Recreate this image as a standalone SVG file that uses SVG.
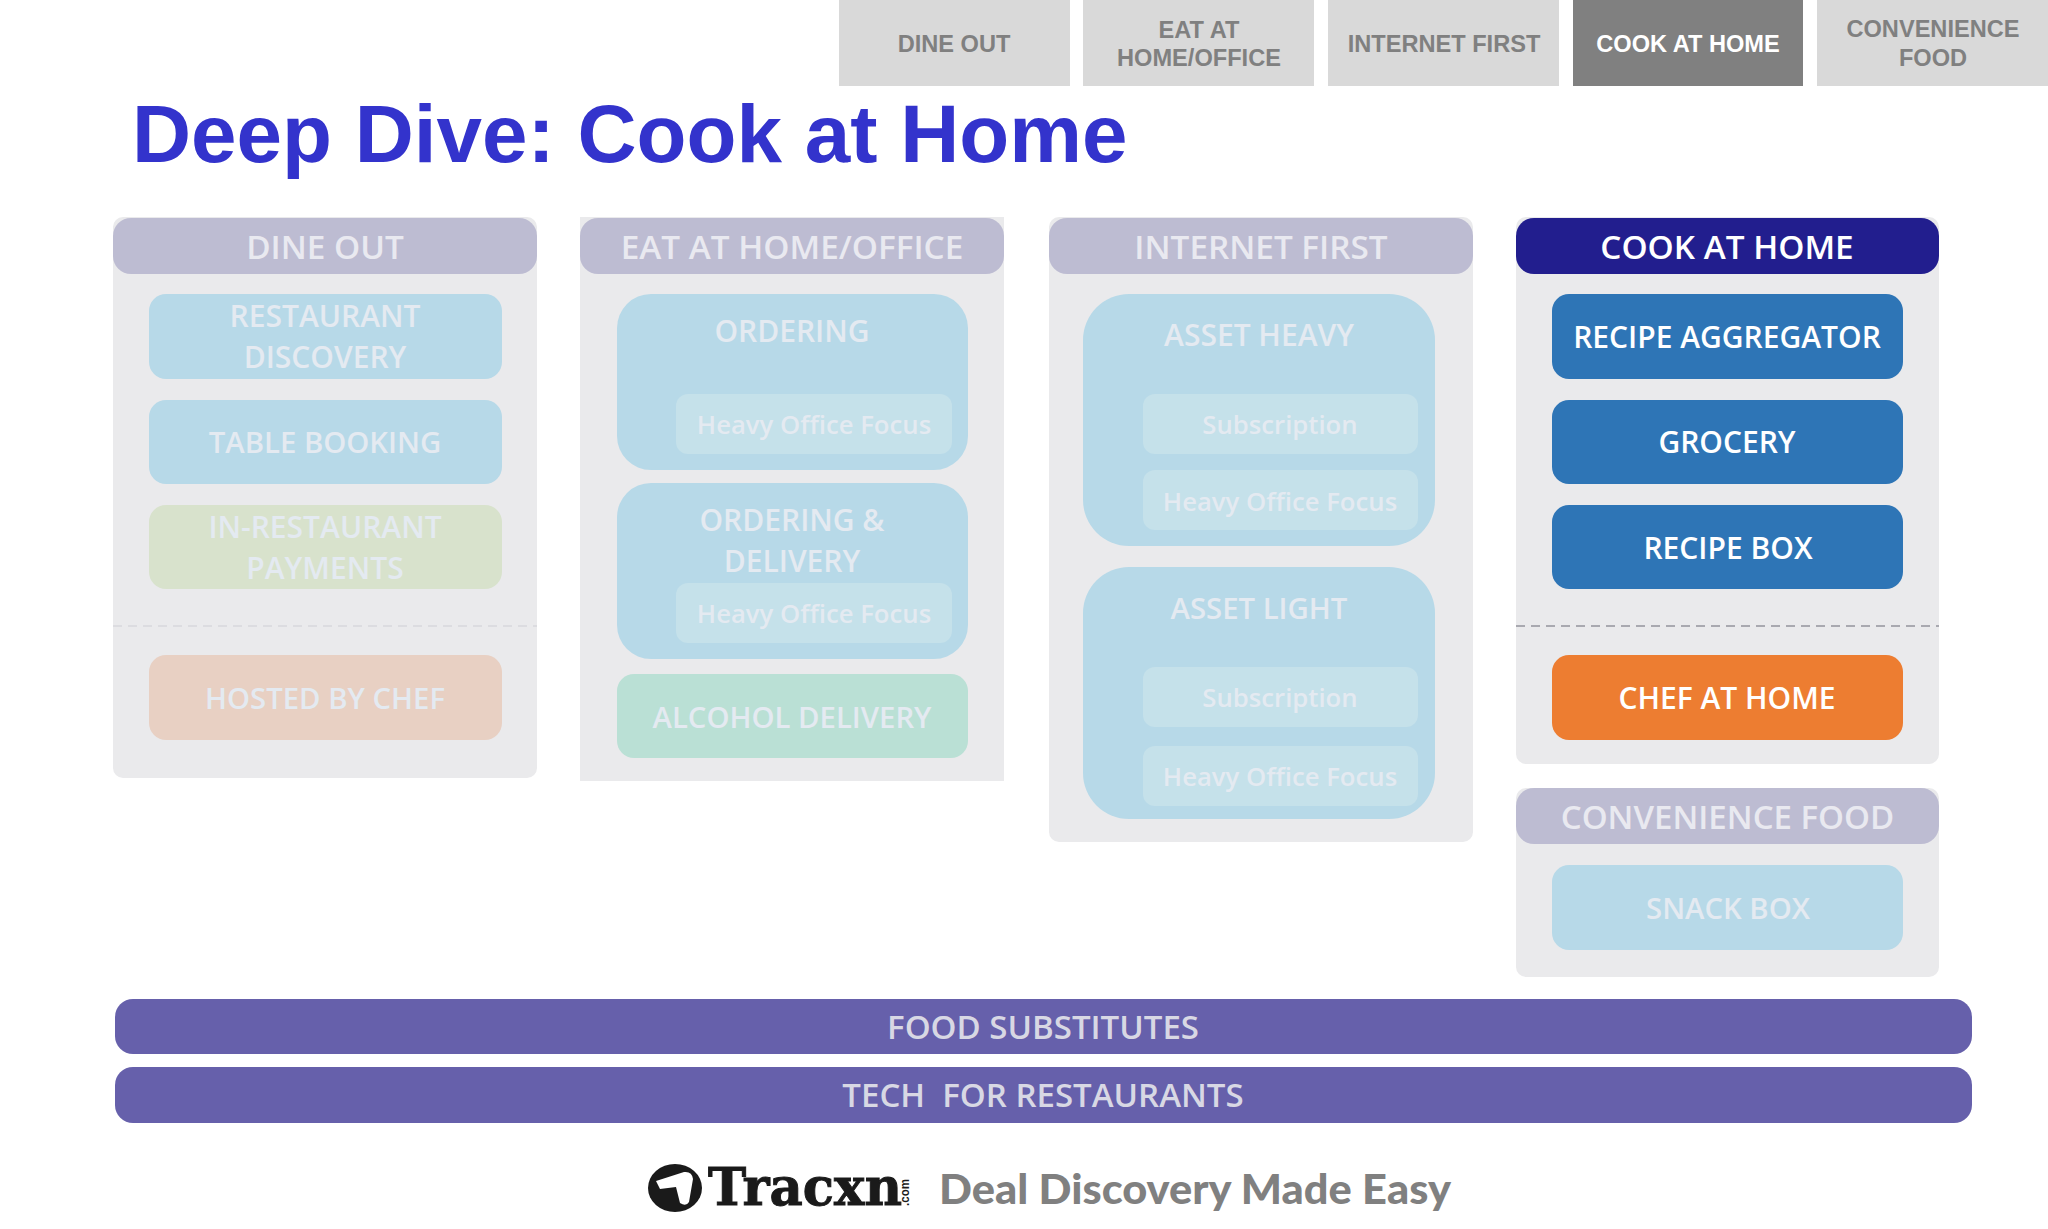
<svg xmlns="http://www.w3.org/2000/svg" width="2048" height="1229" viewBox="0 0 2048 1229">
<style>
text{text-anchor:middle;font-family:"Open Sans","Noto Sans",sans-serif;font-weight:600}
.tab{fill:#d9d9d9}.tabt{font-family:"Liberation Sans",Arial,sans-serif;font-weight:700;font-size:23.6px;fill:#808080}
.panel{fill:#eaeaec}.hd{fill:#bdbcd2}.hdt{font-size:33.3px;fill:#e9e9f0}
.it{fill:#b7d9e8}.itt{font-size:30px;fill:#e4eaf1}.nar{font-size:29.3px}.sub{fill:#c5e1ea}.subt{font-size:25.7px;fill:#e4eaf1}
.on{fill:#2e75b6}.ont{font-size:30px;fill:#fff}
.bar{fill:#6660ab}.bart{font-size:33px;fill:#d8d8e4}
.dash{stroke:#dcdce0;stroke-width:2;stroke-dasharray:9 6;fill:none}
</style>
<rect width="2048" height="1229" fill="#fff"/>
<g id="tabs">
<g id="tab-dine-out"><rect class="tab" x="839" y="0" width="231" height="86"/><text class="tabt" x="954" y="52">DINE OUT</text></g>
<g id="tab-eat"><rect class="tab" x="1083" y="0" width="231" height="86"/><text class="tabt" x="1199" y="38">EAT AT</text><text class="tabt" x="1199" y="66">HOME/OFFICE</text></g>
<g id="tab-internet"><rect class="tab" x="1328" y="0" width="231" height="86"/><text class="tabt" x="1444" y="52">INTERNET FIRST</text></g>
<g id="tab-cook"><rect x="1573" y="0" width="230" height="86" fill="#808080"/><text class="tabt" x="1688" y="52" style="fill:#fff">COOK AT HOME</text></g>
<g id="tab-convenience"><rect class="tab" x="1817" y="0" width="231" height="86"/><text class="tabt" x="1933" y="37">CONVENIENCE</text><text class="tabt" x="1933" y="66">FOOD</text></g>
</g>
<text id="title" x="132" y="162" style="text-anchor:start;font-family:'Liberation Sans',Arial,sans-serif;font-weight:700;font-size:81.8px;fill:#3333cc">Deep Dive: Cook at Home</text>
<g id="dine-out">
<rect class="panel" x="113" y="217" width="424" height="561" rx="10"/>
<rect class="hd" x="113" y="218" width="424" height="56" rx="18"/><text class="hdt" x="325" y="259">DINE OUT</text>
<g id="restaurant-discovery"><rect class="it" x="149" y="294" width="353" height="85" rx="17"/><text class="itt" x="325" y="327">RESTAURANT</text><text class="itt" x="325" y="368">DISCOVERY</text></g>
<g id="table-booking"><rect class="it" x="149" y="400" width="353" height="84" rx="17"/><text class="itt nar" x="325" y="453">TABLE BOOKING</text></g>
<g id="in-restaurant"><rect x="149" y="505" width="353" height="84" rx="17" fill="#d8e2cc"/><text class="itt" x="325" y="538">IN-RESTAURANT</text><text class="itt" x="325" y="579">PAYMENTS</text></g>
<line class="dash" x1="113" y1="626" x2="537" y2="626"/>
<g id="hosted-by-chef"><rect x="149" y="655" width="353" height="85" rx="17" fill="#e8d0c3"/><text class="itt nar" x="325" y="709">HOSTED BY CHEF</text></g>
</g>
<g id="eat-at-home">
<rect class="panel" x="580" y="217" width="424" height="564"/>
<rect class="hd" x="580" y="218" width="424" height="56" rx="18"/><text class="hdt" x="792" y="259">EAT AT HOME/OFFICE</text>
<g id="ordering"><rect class="it" x="617" y="294" width="351" height="176" rx="34"/><text class="itt" x="792" y="342">ORDERING</text>
<rect class="sub" x="676" y="394" width="276" height="60" rx="12"/><text class="subt" x="814" y="434">Heavy Office Focus</text></g>
<g id="ordering-delivery"><rect class="it" x="617" y="483" width="351" height="176" rx="34"/><text class="itt" x="792" y="531">ORDERING &amp;</text><text class="itt" x="792" y="572">DELIVERY</text>
<rect class="sub" x="676" y="583" width="276" height="60" rx="12"/><text class="subt" x="814" y="623">Heavy Office Focus</text></g>
<g id="alcohol-delivery"><rect x="617" y="674" width="351" height="84" rx="17" fill="#bae0d5"/><text class="itt nar" x="792" y="728">ALCOHOL DELIVERY</text></g>
</g>
<g id="internet-first">
<rect class="panel" x="1049" y="217" width="424" height="625" rx="10"/>
<rect class="hd" x="1049" y="218" width="424" height="56" rx="18"/><text class="hdt" x="1261" y="259">INTERNET FIRST</text>
<g id="asset-heavy"><rect class="it" x="1083" y="294" width="352" height="252" rx="46"/><text class="itt" x="1259" y="346">ASSET HEAVY</text>
<rect class="sub" x="1143" y="394" width="275" height="60" rx="12"/><text class="subt" x="1280" y="434">Subscription</text>
<rect class="sub" x="1143" y="470" width="275" height="60" rx="12"/><text class="subt" x="1280" y="511">Heavy Office Focus</text></g>
<g id="asset-light"><rect class="it" x="1083" y="567" width="352" height="252" rx="46"/><text class="itt nar" x="1259" y="619">ASSET LIGHT</text>
<rect class="sub" x="1143" y="667" width="275" height="60" rx="12"/><text class="subt" x="1280" y="707">Subscription</text>
<rect class="sub" x="1143" y="746" width="275" height="60" rx="12"/><text class="subt" x="1280" y="786">Heavy Office Focus</text></g>
</g>
<g id="cook-at-home">
<rect class="panel" x="1516" y="217" width="423" height="547" rx="10"/>
<rect x="1516" y="218" width="423" height="56" rx="18" fill="#221e8e"/><text class="hdt" x="1727" y="259" style="fill:#fff">COOK AT HOME</text>
<g id="recipe-aggregator"><rect class="on" x="1552" y="294" width="351" height="85" rx="17"/><text class="ont" x="1727" y="348">RECIPE AGGREGATOR</text></g>
<g id="grocery"><rect class="on" x="1552" y="400" width="351" height="84" rx="17"/><text class="ont nar" x="1727" y="453">GROCERY</text></g>
<g id="recipe-box"><rect class="on" x="1552" y="505" width="351" height="84" rx="17"/><text class="ont nar" x="1728" y="559">RECIPE BOX</text></g>
<line class="dash" x1="1516" y1="626" x2="1939" y2="626" style="stroke:#a9a9b0"/>
<g id="chef-at-home"><rect x="1552" y="655" width="351" height="85" rx="17" fill="#ed7d31"/><text class="ont" x="1727" y="709">CHEF AT HOME</text></g>
</g>
<g id="convenience-food">
<rect class="panel" x="1516" y="788" width="423" height="189" rx="10"/>
<rect class="hd" x="1516" y="788" width="423" height="56" rx="18"/><text class="hdt" x="1727.500" y="829" style="font-size:33px">CONVENIENCE FOOD</text>
<g id="snack-box"><rect class="it" x="1552" y="865" width="351" height="85" rx="17"/><text class="itt nar" x="1728" y="919">SNACK BOX</text></g>
</g>
<g id="food-substitutes"><rect class="bar" x="115" y="999" width="1857" height="55" rx="18"/><text class="bart" x="1043" y="1039">FOOD SUBSTITUTES</text></g>
<g id="tech-for-restaurants"><rect class="bar" x="115" y="1067" width="1857" height="56" rx="18"/><text class="bart" x="1043" y="1107" xml:space="preserve">TECH  FOR RESTAURANTS</text></g>
<g id="logo">
<ellipse cx="675" cy="1188" rx="27" ry="24" fill="#1a1a1a"/>
<path d="M656 1181 L684 1172 Q692 1171 693 1179 L689 1202 Q686 1207 680 1203 L676 1187 L660 1189 Z" fill="#fff"/>
<text x="708" y="1205" style="text-anchor:start;font-family:'DejaVu Serif',serif;font-weight:700;font-size:52px;fill:#1a1a1a;stroke:#1a1a1a;stroke-width:1" textLength="194" lengthAdjust="spacingAndGlyphs">Tracxn</text>
<text transform="translate(909 1206) rotate(-90)" style="text-anchor:start;font-family:'Liberation Sans',sans-serif;font-weight:700;font-size:12px;fill:#1a1a1a" textLength="27" lengthAdjust="spacingAndGlyphs">.com</text>
<text x="939" y="1204" style="text-anchor:start;font-family:Lato,sans-serif;font-weight:900;font-size:41px;fill:#808080" textLength="512" lengthAdjust="spacingAndGlyphs">Deal Discovery Made Easy</text>
</g>
</svg>
